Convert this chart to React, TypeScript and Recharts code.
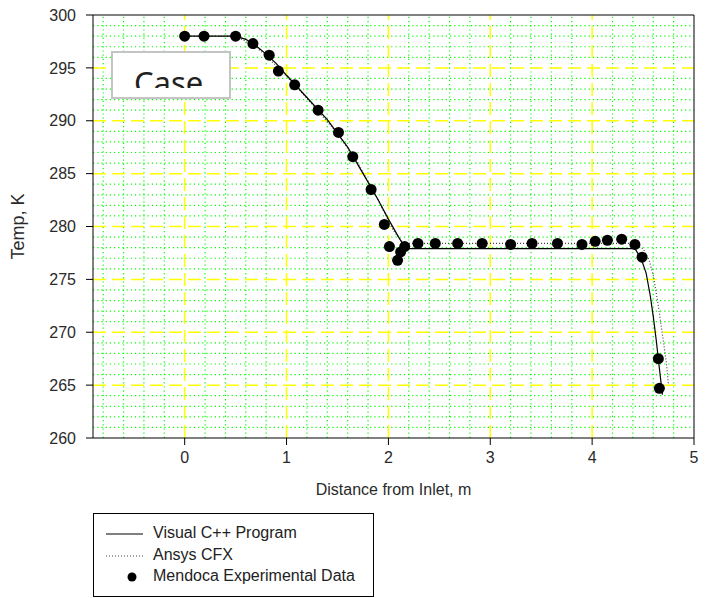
import { ComposedChart, Line, Scatter, XAxis, YAxis, ReferenceLine } from "recharts";

// Visual C++ program result
const vcX = [0, 0.5, 0.6, 0.7, 0.8, 0.9, 1.0, 1.2, 1.4, 1.6, 1.8, 1.9, 2.0, 2.1, 2.17, 3.0, 4.0, 4.42, 4.48, 4.53, 4.57, 4.6, 4.63, 4.66, 4.69];
const vcT = [298, 298, 297.7, 297.1, 296.3, 295.4, 294.3, 292.2, 290.1, 287.5, 284.2, 282.5, 280.7, 279.0, 277.9, 277.9, 277.9, 277.9, 277.0, 275.6, 273.5, 271.5, 269.2, 266.6, 264.1];

// Ansys CFX result
const cfxX = [0, 0.5, 0.7, 0.9, 1.1, 1.3, 1.5, 1.7, 1.9, 2.05, 2.15, 2.25, 3.0, 4.0, 4.4, 4.5, 4.56, 4.6, 4.65, 4.7, 4.73, 4.75];
const cfxT = [298, 298, 297.0, 295.2, 293.2, 291.0, 288.8, 286.0, 282.5, 279.6, 278.4, 278.4, 278.4, 278.4, 278.4, 277.9, 276.8, 275.4, 272.5, 269.1, 267.0, 265.0];

// Mendoca experimental data
const expX = [0, 0.19, 0.5, 0.67, 0.83, 0.92, 1.08, 1.31, 1.51, 1.65, 1.83, 1.96, 2.01, 2.09, 2.12, 2.16, 2.29, 2.46, 2.68, 2.92, 3.2, 3.41, 3.66, 3.9, 4.03, 4.15, 4.29, 4.42, 4.49, 4.65, 4.66];
const expT = [298, 298, 298, 297.3, 296.2, 294.7, 293.4, 291.0, 288.9, 286.6, 283.5, 280.2, 278.1, 276.8, 277.6, 278.1, 278.4, 278.4, 278.4, 278.4, 278.3, 278.4, 278.4, 278.3, 278.6, 278.7, 278.8, 278.3, 277.1, 267.5, 264.7];

const xTicks = [0, 1, 2, 3, 4, 5];
const yTicks = [260, 265, 270, 275, 280, 285, 290, 295, 300];

const vcData = vcX.map((x, i) => ({ x, y: vcT[i] }));
const cfxData = cfxX.map((x, i) => ({ x, y: cfxT[i] }));
const expData = expX.map((x, i) => ({ x, y: expT[i] }));

// grid lines
const majorX = [0, 1, 2, 3, 4];
const majorY = [265, 270, 275, 280, 285, 290, 295];
const minorX: number[] = [];
for (let i = -4; i < 25; i++) if (i % 5 !== 0) minorX.push(i / 5);
const minorY: number[] = [];
for (let t = 261; t < 300; t++) if (t % 5 !== 0) minorY.push(t);

const font = "'Liberation Sans', Arial, sans-serif";
const tickStyle = { fontSize: 16, fill: "#2a2a2a", fontFamily: font };

const Dot = (props: any) => {
  const { cx, cy } = props;
  return <circle cx={cx} cy={cy} r={5.5} fill="#000" />;
};

export default function App() {
  return (
    <div style={{ position: "absolute", left: 0, top: 0, width: 711, height: 598, background: "#fff", fontFamily: font }}>
      <ComposedChart width={711} height={598} margin={{ top: 15, right: 17, bottom: 100, left: 0 }}>
        <XAxis
          type="number"
          dataKey="x"
          domain={[-0.9, 5]}
          ticks={xTicks}
          allowDataOverflow
          stroke="#000"
          tickSize={7}
          tickMargin={7}
          tick={tickStyle}
          height={60}
          label={{ value: "Distance from Inlet, m", position: "insideBottom", offset: 3, style: { fontSize: 16, fill: "#2a2a2a", fontFamily: font } }}
        />
        <YAxis
          type="number"
          dataKey="y"
          domain={[260, 300]}
          ticks={yTicks}
          allowDataOverflow
          stroke="#000"
          tickSize={7}
          tickMargin={10}
          tick={tickStyle}
          width={93}
          label={{ value: "Temp, K", angle: -90, position: "insideLeft", offset: 18, style: { fontSize: 18, fill: "#2a2a2a", fontFamily: font, textAnchor: "middle" } }}
        />
        {minorY.map((v) => (
          <ReferenceLine key={"my" + v} y={v} stroke="#00ff00" strokeWidth={1.2} strokeDasharray="1.2 3" />
        ))}
        {minorX.map((v) => (
          <ReferenceLine key={"mx" + v} x={v} stroke="#00ff00" strokeWidth={1.2} strokeDasharray="1.2 3" />
        ))}
        {majorY.map((v) => (
          <ReferenceLine key={"My" + v} y={v} stroke="#ffff00" strokeWidth={1.5} strokeDasharray="13 6" />
        ))}
        {majorX.map((v) => (
          <ReferenceLine key={"Mx" + v} x={v} stroke="#ffff00" strokeWidth={1.5} strokeDasharray="13 6" />
        ))}
        <ReferenceLine y={300} stroke="#000" />
        <ReferenceLine x={5} stroke="#000" />
        <Line data={cfxData} dataKey="y" type="linear" stroke="#444" strokeWidth={1.2} strokeDasharray="1 2" dot={false} isAnimationActive={false} />
        <Line data={vcData} dataKey="y" type="linear" stroke="#000" strokeWidth={1.2} dot={false} isAnimationActive={false} />
        <Scatter data={expData} dataKey="y" fill="#000" shape={<Dot />} isAnimationActive={false} />
      </ComposedChart>

      <div style={{ position: "absolute", left: 111, top: 51, width: 116, height: 44, border: "2px solid #c4c4c4", background: "#fff", overflow: "hidden" }}>
        <div style={{ position: "absolute", left: 0, top: 0, width: 116, height: 35, overflow: "hidden" }}>
          <div style={{ position: "absolute", left: 21, top: 9, fontSize: 31, lineHeight: "40px", color: "#222", fontFamily: "'Noto Sans', sans-serif" }}>Case</div>
        </div>
      </div>

      <div style={{ position: "absolute", left: 93, top: 513, width: 279, height: 82, border: "1px solid #000", background: "#fff", fontSize: 16, color: "#222" }}>
        <svg width={60} height={82} style={{ position: "absolute", left: 0, top: 0 }}>
          <line x1={12} x2={49} y1={20} y2={20} stroke="#000" strokeWidth={1.2} />
          <line x1={12} x2={49} y1={42} y2={42} stroke="#444" strokeWidth={1} strokeDasharray="1 2" />
          <circle cx={38} cy={63} r={4.5} fill="#000" />
        </svg>
        <div style={{ position: "absolute", left: 59, top: 10 }}>Visual C++ Program</div>
        <div style={{ position: "absolute", left: 59, top: 32 }}>Ansys CFX</div>
        <div style={{ position: "absolute", left: 59, top: 53 }}>Mendoca Experimental Data</div>
      </div>
    </div>
  );
}
